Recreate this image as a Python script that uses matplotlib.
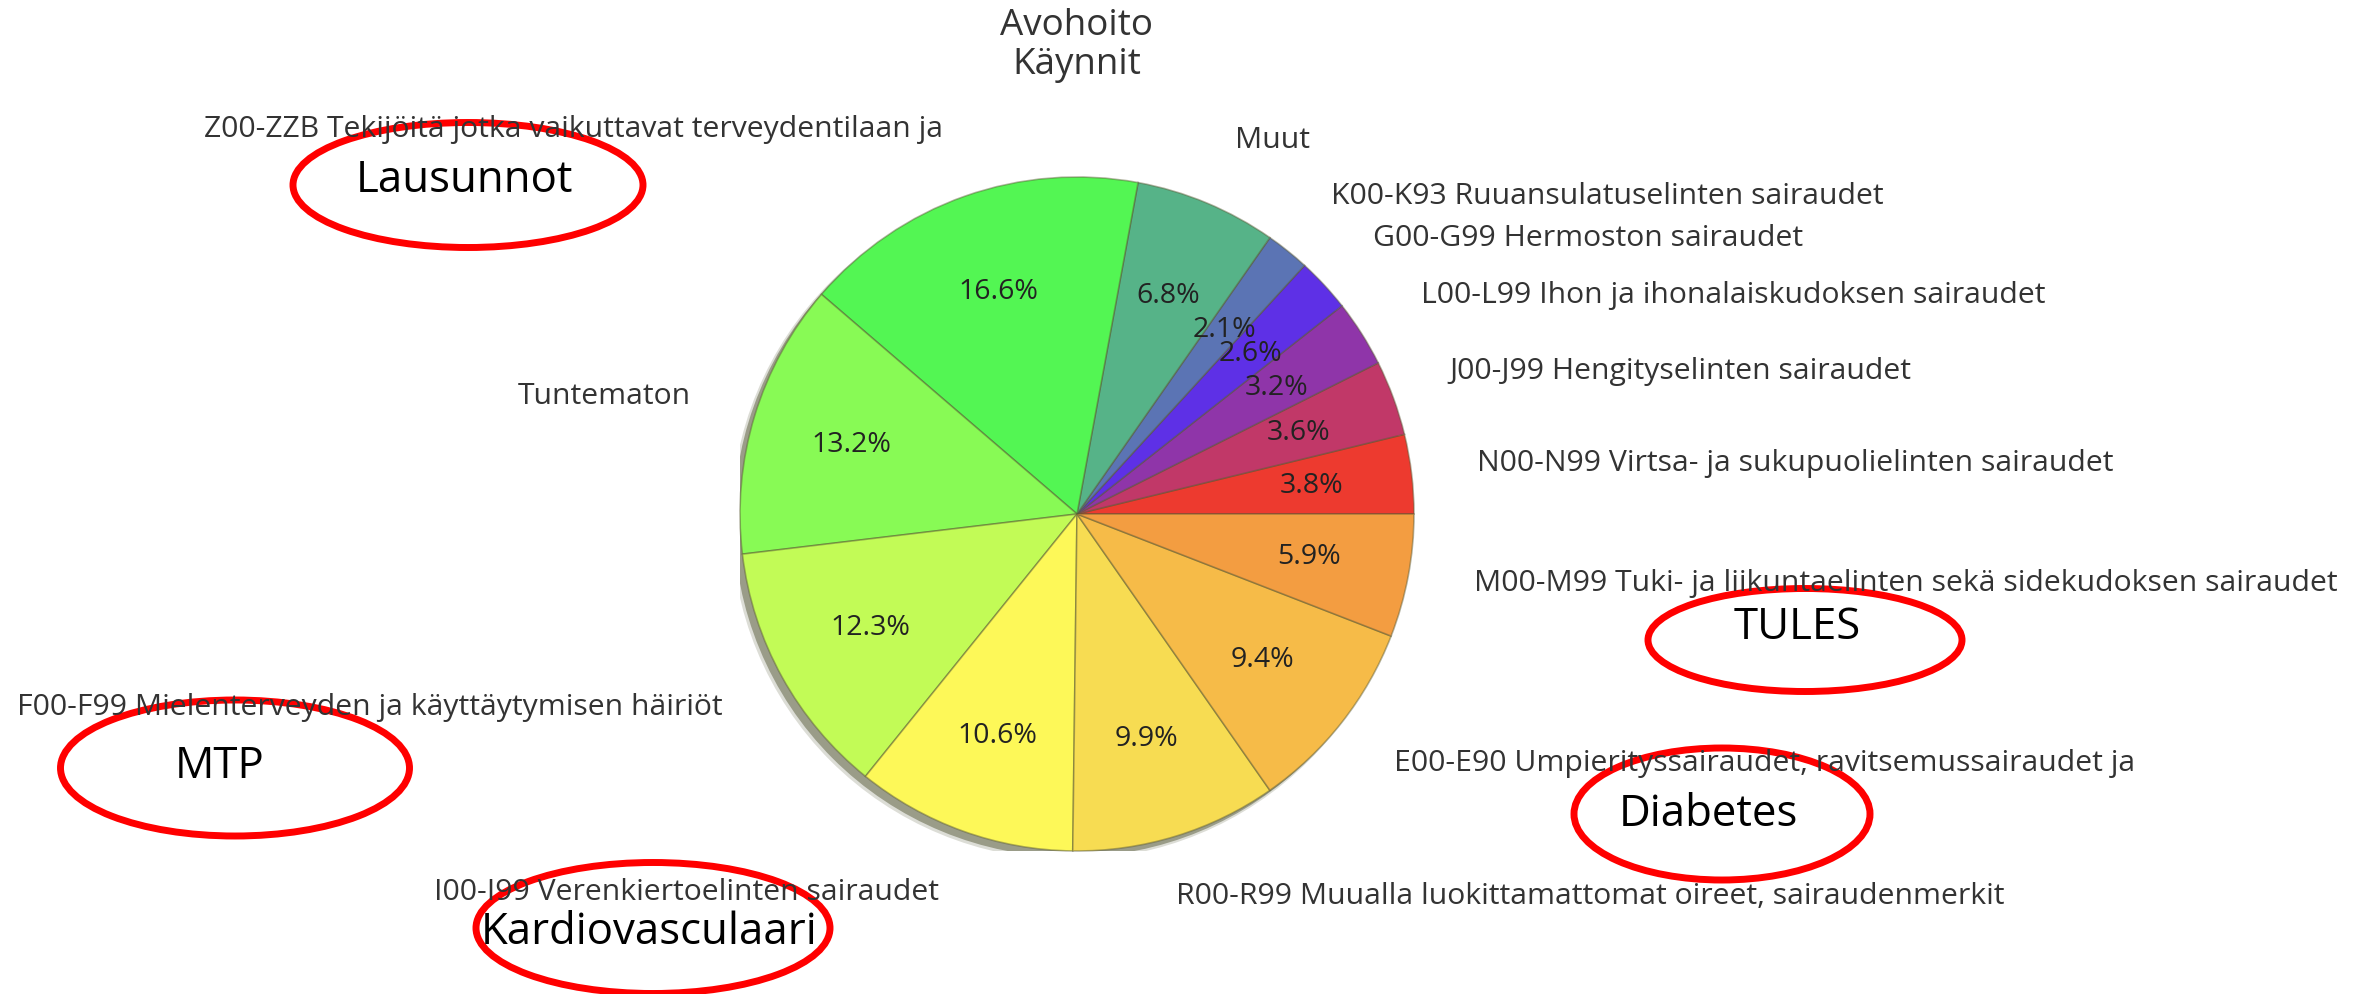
import matplotlib
matplotlib.use("Agg")
import matplotlib.pyplot as plt
from matplotlib.patches import Ellipse, Circle

plt.rcParams['font.family'] = ['Open Sans', 'DejaVu Sans']

# ---- data ----
categories = [
    "N00-N99 Virtsa- ja sukupuolielinten sairaudet",
    "J00-J99 Hengityselinten sairaudet",
    "L00-L99 Ihon ja ihonalaiskudoksen sairaudet",
    "G00-G99 Hermoston sairaudet",
    "K00-K93 Ruuansulatuselinten sairaudet",
    "Muut",
    "Z00-ZZB Tekijöitä jotka vaikuttavat terveydentilaan ja",
    "Tuntematon",
    "F00-F99 Mielenterveyden ja käyttäytymisen häiriöt",
    "I00-I99 Verenkiertoelinten sairaudet",
    "R00-R99 Muualla luokittamattomat oireet, sairaudenmerkit",
    "E00-E90 Umpierityssairaudet, ravitsemussairaudet ja",
    "M00-M99 Tuki- ja liikuntaelinten sekä sidekudoksen sairaudet",
]
values = [3.8, 3.6, 3.2, 2.6, 2.1, 6.8, 16.6, 13.2, 12.3, 10.6, 9.9, 9.4, 5.9]
colors = ["#ed3a2f", "#c13868", "#8f35a9", "#5e30e6", "#5b74b4", "#56b388",
          "#53f653", "#88fa55", "#c2fb56", "#fdf858", "#f7dc52", "#f6bb48", "#f39d41"]
title_lines = ["Avohoito", "Käynnit"]

# annotation (red ellipse) texts
notes = ["Lausunnot", "TULES", "Diabetes", "MTP", "Kardiovasculaari"]

# ---- layout (pixel positions, style only) ----
W, H = 2371, 994
label_pos = [  # (x, y, ha)
    (1477, 463, 'left'),
    (1449, 372, 'left'),
    (1421, 296, 'left'),
    (1373, 239, 'left'),
    (1331, 197, 'left'),
    (1235, 141, 'left'),
    (943, 130, 'right'),
    (691, 396, 'right'),
    (723, 708, 'right'),
    (939, 892, 'right'),
    (1176, 897, 'left'),
    (1394, 764, 'left'),
    (1474, 584, 'left'),
]
note_ell = [  # center x, center y, width, height (pixels)
    (468, 185, 350, 125),
    (1805, 640, 314, 103),
    (1722, 814, 296, 132),
    (235, 768, 349, 136),
    (653, 928, 354, 131),
]
note_txt = [(465, 181), (1797, 628), (1708, 815), (220, 767), (649, 933)]

fig = plt.figure(figsize=(W / 100, H / 100), dpi=100)
fig.patch.set_facecolor('white')

cx, cy, r = 1077, 514, 337
ax = fig.add_axes([(cx - r) / W, (H - cy - r) / H, 2 * r / W, 2 * r / H])
ax.set_xlim(-1, 1)
ax.set_ylim(-1, 1)
ax.set_aspect('equal')
ax.axis('off')

# shadow (offset to lower-left)
ax.add_patch(Circle((-0.022, -0.022), 1.004, facecolor='#9c9e8a', edgecolor='none',
                    alpha=0.35, zorder=0))
ax.add_patch(Circle((-0.018, -0.018), 1.0, facecolor='#9a9c88', edgecolor='none',
                    alpha=1.0, zorder=1))

wedges, texts, autotexts = ax.pie(
    values, colors=colors, startangle=0, counterclock=True, radius=1.0,
    autopct='%1.1f%%', pctdistance=0.70,
    wedgeprops=dict(edgecolor=(0.35, 0.35, 0.2, 0.45), linewidth=1.2),
    textprops=dict(fontsize=20.5, color='#222222'))
for w in wedges:
    w.set_zorder(2)
for t in autotexts:
    t.set_zorder(3)
ax.set_xlim(-1, 1)
ax.set_ylim(-1, 1)

# outside labels
for lab, (x, y, ha) in zip(categories, label_pos):
    fig.text(x / W, 1 - y / H, lab, ha=ha, va='center', fontsize=21.7, color='#333333')

# title
fig.text(1077 / W, 1 - 26 / H, title_lines[0], ha='center', va='center', fontsize=26.5, color='#333333')
fig.text(1077 / W, 1 - 65 / H, title_lines[1], ha='center', va='center', fontsize=26.5, color='#333333')

# red ellipse annotations
ov = fig.add_axes([0, 0, 1, 1])
ov.set_xlim(0, W)
ov.set_ylim(H, 0)
ov.axis('off')
for (ex, ey, ew, eh), (tx, ty), s in zip(note_ell, note_txt, notes):
    ov.add_patch(Ellipse((ex, ey), ew, eh, facecolor='none', edgecolor='#ff0000', linewidth=5))
    ov.text(tx, ty, s, ha='center', va='center', fontsize=31.5, color='#000000')

fig.savefig('out.png', dpi=100, facecolor='white')
